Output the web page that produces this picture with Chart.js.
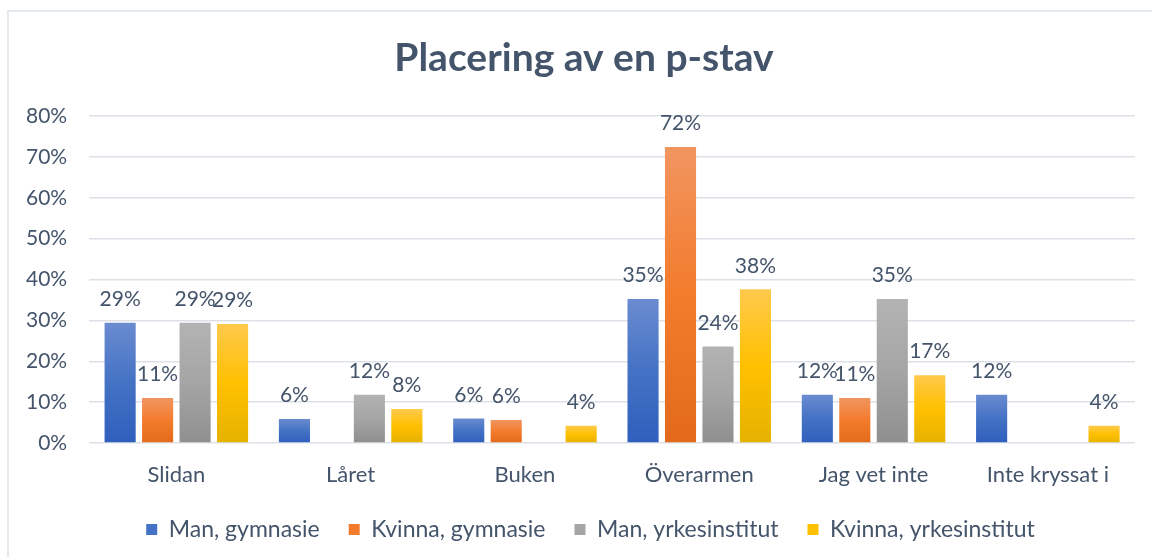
<!DOCTYPE html>
<html>
<head>
<meta charset="utf-8">
<script src="https://cdn.jsdelivr.net/npm/chart.js@4"></script>
<style>
  html, body { margin: 0; padding: 0; background: #fff; }
  #wrap { position: relative; width: 1152px; height: 557px; }
  #frame { position: absolute; left: 7px; top: 10px; right: -10px; bottom: -10px;
           border-left: 2px solid #e3e7ee; border-top: 2px solid #e3e7ee; }
  canvas { position: absolute; left: 0; top: 0; }
</style>
</head>
<body>
<div id="wrap">
  <div id="frame"></div>
  <canvas id="myChart" width="1152" height="557"></canvas>
</div>
<script>
// Kategorier och värden (procent)
const categories = ['Slidan', 'Låret', 'Buken', 'Överarmen', 'Jag vet inte', 'Inte kryssat i'];
const manGymnasie = [29.4, 5.9, 6.0, 35.2, 11.8, 11.8];
const kvinnaGymnasie = [11.0, null, 5.6, 72.4, 11.0, null];
const manYrkes = [29.4, 11.8, null, 23.6, 35.2, null];
const kvinnaYrkes = [29.1, 8.3, 4.2, 37.6, 16.6, 4.2];
const yTicks = [0, 10, 20, 30, 40, 50, 60, 70, 80];
const chartTitle = 'Placering av en p-stav';

const FONT = 'Lato';
const TEXT = '#44546a';

// färger: topp, mitten, botten (Excel-liknande gradient)
const blue = ['#6a8bd0', '#4472c4', '#2f5fbd'];
const orange = ['#f19560', '#f37b2c', '#e36a1b'];
const gray = ['#b3b3b3', '#a5a5a5', '#8f8f8f'];
const yellow = ['#ffc94c', '#ffc000', '#e5b200'];

function barGradient(cols) {
  return function (c) {
    const chart = c.chart;
    const y = chart.scales.y;
    if (!y || c.parsed == null || c.parsed.y == null) return cols[1];
    const top = y.getPixelForValue(c.parsed.y);
    const base = y.getPixelForValue(0);
    if (!isFinite(top) || top === base) return cols[1];
    const g = chart.ctx.createLinearGradient(0, top, 0, base);
    g.addColorStop(0, cols[0]);
    g.addColorStop(0.5, cols[1]);
    g.addColorStop(1, cols[2]);
    return g;
  };
}

// etiketter ovanför staplarna + rubrik (lite till höger som i Excel)
const valueLabels = {
  id: 'valueLabels',
  afterLayout(chart) {
    // flytta legenden lite åt höger
    chart.legend.left += 21;
    chart.legend.right += 21;
  },
  afterDatasetsDraw(chart) {
    const ctx = chart.ctx;
    ctx.save();
    ctx.font = '21px ' + FONT;
    ctx.fillStyle = TEXT;
    ctx.textAlign = 'center';
    ctx.textBaseline = 'bottom';
    chart.data.datasets.forEach((ds, i) => {
      const meta = chart.getDatasetMeta(i);
      meta.data.forEach((bar, j) => {
        const v = ds.data[j];
        if (v == null) return;
        ctx.fillText(Math.round(v) + '%', bar.x, bar.y - 13);
      });
    });
    ctx.font = 'bold 39px ' + FONT;
    ctx.textBaseline = 'middle';
    ctx.fillText(chartTitle, 584, 58);
    ctx.restore();
  }
};

const ctx = document.getElementById('myChart').getContext('2d');
const chart = new Chart(ctx, {
  type: 'bar',
  data: {
    labels: categories,
    datasets: [
      { label: 'Man, gymnasie', data: manGymnasie, backgroundColor: barGradient(blue), legendColor: blue[1] },
      { label: 'Kvinna, gymnasie', data: kvinnaGymnasie, backgroundColor: barGradient(orange), legendColor: orange[1] },
      { label: 'Man, yrkesinstitut', data: manYrkes, backgroundColor: barGradient(gray), legendColor: gray[1] },
      { label: 'Kvinna, yrkesinstitut', data: kvinnaYrkes, backgroundColor: barGradient(yellow), legendColor: yellow[1] }
    ]
  },
  options: {
    responsive: false,
    animation: false,
    datasets: { bar: { categoryPercentage: 0.86, barPercentage: 0.83 } },
    layout: { padding: { left: 4, right: 17, top: 116, bottom: 6 } },
    plugins: {
      title: { display: false },
      legend: {
        position: 'bottom',
        labels: {
          color: TEXT,
          font: { family: FONT, size: 23 },
          boxWidth: 11,
          boxHeight: 11,
          padding: 29,
          generateLabels(chart) {
            return chart.data.datasets.map((ds, i) => ({
              text: ds.label,
              fillStyle: ds.legendColor,
              strokeStyle: ds.legendColor,
              lineWidth: 0,
              datasetIndex: i,
              fontColor: TEXT
            }));
          }
        }
      },
      tooltip: { enabled: false }
    },
    scales: {
      x: {
        grid: { display: false, drawTicks: false },
        border: { display: false },
        ticks: { color: TEXT, font: { family: FONT, size: 22 }, padding: 19 },
        afterFit(axis) { axis.height = 46; }
      },
      y: {
        min: 0,
        max: 80,
        afterBuildTicks(axis) { axis.ticks = yTicks.map(v => ({ value: v })); },
        grid: { color: '#dde1e7', lineWidth: 1.5, drawTicks: false },
        border: { display: false },
        ticks: { color: TEXT, font: { family: FONT, size: 21 }, padding: 22, callback: v => v + '%' }
      }
    }
  },
  plugins: [valueLabels]
});
</script>
</body>
</html>
